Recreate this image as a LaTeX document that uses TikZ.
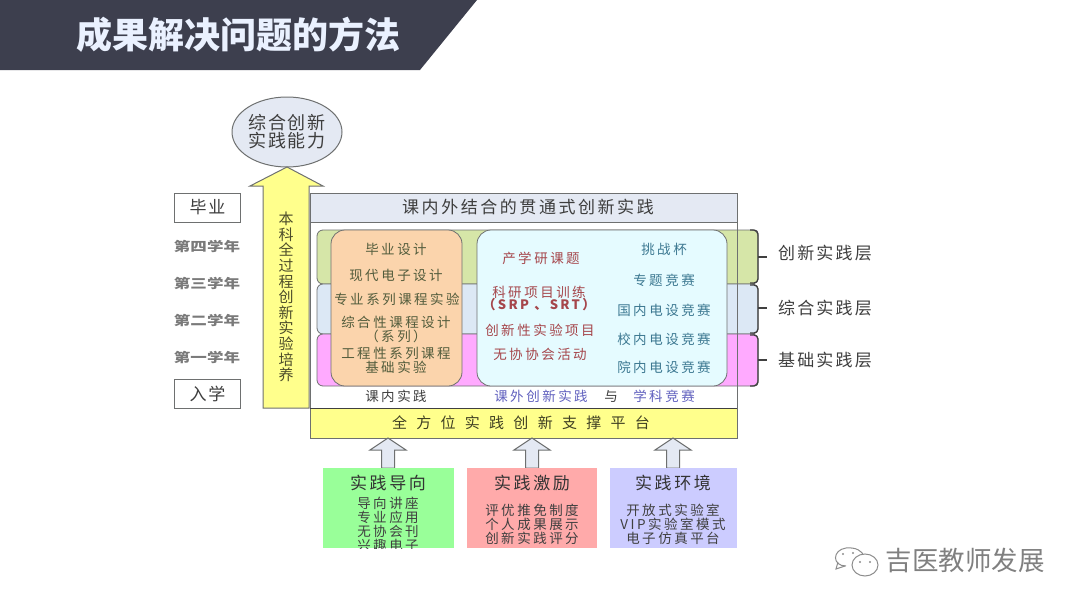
\documentclass[tikz,border=0pt]{standalone}
\usepackage{fontspec}
\setmainfont{Noto Sans CJK SC}
\usetikzlibrary{shapes.geometric}
\definecolor{cband}{RGB}{61,63,78}
\definecolor{ctitle}{RGB}{234,241,255}
\definecolor{cline}{RGB}{110,112,112}
\definecolor{cpale}{RGB}{228,233,243}
\definecolor{cyel}{RGB}{255,255,140}
\definecolor{cgreen}{RGB}{214,230,168}
\definecolor{cblue}{RGB}{220,232,245}
\definecolor{cpink}{RGB}{255,170,255}
\definecolor{corange}{RGB}{251,212,172}
\definecolor{ccyan}{RGB}{229,251,255}
\definecolor{cbgreen}{RGB}{153,255,153}
\definecolor{cbred}{RGB}{255,170,170}
\definecolor{cbviol}{RGB}{204,204,255}
\definecolor{tolive}{RGB}{82,92,60}
\definecolor{tred}{RGB}{165,70,75}
\definecolor{tteal}{RGB}{60,120,145}
\definecolor{tpurp}{RGB}{96,96,190}
\definecolor{tdark}{RGB}{62,62,62}
\newcommand{\fs}[1]{\fontsize{#1}{#1}\selectfont}
\newcommand{\wide}[1]{\addfontfeature{LetterSpace=#1}}
\newcommand{\bodyfont}{\fs{13.5}\wide{18.5}}
\tikzset{
  panel/.style={draw=cline, line width=1pt},
  layerbox/.style={draw=cline, line width=.8pt, rounded corners=6pt},
  brace/.style={draw=black!75, line width=1.3pt, rounded corners=4pt},
  upar/.style={draw=cline, fill=cpale, line width=1pt},
  endbox/.style={panel, fill=white, minimum width=66pt, minimum height=29pt, inner sep=0pt, text=tdark, font=\fs{17}\wide{10}},
  yearlab/.style={text=black!52, xscale=1.27, transform shape, font=\bfseries\fs{13}},
  oranlab/.style={text=tolive, font=\bodyfont},
  redlab/.style={text=tred, font=\bodyfont},
  teallab/.style={text=tteal, font=\bodyfont},
  purplab/.style={text=tpurp, font=\bodyfont},
  layerlab/.style={text=tdark, font=\fs{17}\wide{13}},
  headlab/.style={text=black!80, font=\fs{17}\wide{15}},
  rowlab/.style={text=black!75, align=center, font=\bodyfont, inner sep=0pt},
}
\begin{document}
\begin{tikzpicture}[x=1pt,y=-1pt]
  \useasboundingbox (0,0) rectangle (1080,608);
  % title band
  \fill[cband] (0,0) -- (477,0) -- (420,70) -- (0,70) -- cycle;
  \node[text=ctitle, font=\bfseries\fs{36}] (title) at (238.5,35) {成果解决问题的方法};
  % left column
  \node[ellipse, panel, fill=cpale, minimum width=110pt, minimum height=70pt, inner sep=0pt,
        align=center, text=tdark, font=\fs{18}\wide{8}] (ability) at (287,132) {综合创新\\实践能力};
  \draw[draw=cline, fill=cyel, line width=1pt] (287,167) -- (323,186) -- (309,186) -- (309,408)
    -- (263,408) -- (263,186) -- (250,186) -- cycle;
  \node[align=center, text=black!70!cyel, inner sep=0pt, font=\fontsize{15}{15.6}\selectfont] (whole) at (286,297)
    {本\\科\\全\\过\\程\\创\\新\\实\\验\\培\\养};
  \node[endbox] (grad) at (207.5,207.5) {毕业};
  \node[yearlab] (y4) at (207,246) {第四学年};
  \node[yearlab] (y3) at (207,283) {第三学年};
  \node[yearlab] (y2) at (207,320) {第二学年};
  \node[yearlab] (y1) at (207,357) {第一学年};
  \node[endbox] (enter) at (207.5,393.5) {入学};
  % layer bands, frame drawn over them
  \draw[layerbox, fill=cgreen] (317,230) rectangle (758,284);
  \draw[layerbox, fill=cblue] (317,284) rectangle (758,334);
  \draw[layerbox, fill=cpink] (317,334) rectangle (758,386);
  \draw[panel] (310,222) rectangle (737,408);
  \draw[panel, fill=cpale] (310,193) rectangle (737,222);
  \node[text=tdark, font=\fs{17}\wide{15}] (frametop) at (528,207) {课内外结合的贯通式创新实践};
  \draw[layerbox, rounded corners=14pt, fill=corange] (331,230) rectangle (462,386);
  \draw[layerbox, rounded corners=14pt, fill=ccyan] (477,230) rectangle (727,386);
  % braces on the right
  \draw[brace] (750,230) -- (758,230) -- (758,283) -- (750,283);
  \draw[brace] (750,285) -- (758,285) -- (758,333) -- (750,333);
  \draw[brace] (750,335) -- (758,335) -- (758,386) -- (750,386);
  \draw[brace] (758,257) -- (767,257);
  \draw[brace] (758,308) -- (767,308);
  \draw[brace] (758,360) -- (767,360);
  \node[layerlab] (lay3) at (825,253) {创新实践层};
  \node[layerlab] (lay2) at (825,308) {综合实践层};
  \node[layerlab] (lay1) at (825,360) {基础实践层};
  % inner texts
  \node[oranlab] (o1) at (396,249) {毕业设计};
  \node[oranlab] (o2) at (396,275) {现代电子设计};
  \node[oranlab] (o3) at (397,299) {专业系列课程实验};
  \node[oranlab] (o4) at (396,322) {综合性课程设计};
  \node[oranlab] (o5) at (396,336) {（系列）};
  \node[oranlab] (o6) at (396,353) {工程性系列课程};
  \node[oranlab] (o7) at (396,367) {基础实验};
  \node[redlab] (r1) at (541,258) {产学研课题};
  \node[redlab] (r2) at (539,292) {科研项目训练};
  \node[redlab, font=\bfseries\fs{13}\wide{18}] (r3) at (539,305) {（SRP 、SRT）};
  \node[redlab] (r4) at (540,330) {创新性实验项目};
  \node[redlab] (r5) at (540,354) {无协协会活动};
  \node[teallab] (t1) at (664,249) {挑战杯};
  \node[teallab] (t2) at (664,280) {专题竞赛};
  \node[teallab] (t3) at (664,310) {国内电设竞赛};
  \node[teallab] (t4) at (664,339) {校内电设竞赛};
  \node[teallab] (t5) at (664,367) {院内电设竞赛};
  \node[text=tdark, font=\bodyfont] (inlab) at (396,396) {课内实践};
  \node[purplab] (outlab) at (541,396) {课外创新实践};
  \node[text=tdark, font=\bodyfont] (andlab) at (611,396) {与};
  \node[purplab] (complab) at (664,396) {学科竞赛};
  % support platform
  \draw[panel, fill=cyel] (310,408) rectangle (737,438);
  \node[text=black!75!cyel, font=\fs{15}\wide{62}] (platform) at (521,423) {全方位实践创新支撑平台};
  \draw[black!75, line width=1pt] (310,408) -- (737,408);
  % arrows and bottom boxes
  \foreach \xa in {388,532,673}
    \draw[upar] (\xa,438) -- ({\xa+18},450) -- ({\xa+6.5},450) -- ({\xa+6.5},468)
      -- ({\xa-6.5},468) -- ({\xa-6.5},450) -- ({\xa-18},450) -- cycle;
  \fill[cbgreen] (323,468) rectangle (454,548);
  \fill[cbred] (467,468) rectangle (597,548);
  \fill[cbviol] (610,468) rectangle (737,548);
  \node[headlab] (h1) at (388,483) {实践导向};
  \node[headlab] (h2) at (532,483) {实践激励};
  \node[headlab] (h3) at (673,483) {实践环境};
  \begin{scope}
    \clip (323,468) rectangle (454,548);
    \node[rowlab] (g1) at (388,503) {导向讲座};
    \node[rowlab] (g2) at (388,517) {专业应用};
    \node[rowlab] (g3) at (388,531) {无协会刊};
    \node[rowlab] (g4) at (388,545) {兴趣电子};
  \end{scope}
  \node[rowlab] (p1) at (532,510) {评优推免制度};
  \node[rowlab] (p2) at (532,524) {个人成果展示};
  \node[rowlab] (p3) at (532,538) {创新实践评分};
  \node[rowlab] (v1) at (673,510) {开放式实验室};
  \node[rowlab] (v2) at (673,524) {VIP实验室模式};
  \node[rowlab] (v3) at (673,538) {电子仿真平台};
  % watermark
  \draw[black!45, line width=1pt] (846,566) .. controls (832,566) and (832,550) .. (846,548)
    .. controls (856,547) and (862,551) .. (864,556);
  \draw[black!45, fill=white, line width=1pt] (865,565) ellipse (13 and 11);
  \draw[black!45, line width=1pt] (838,562) -- (836,569) -- (845,566);
  \fill[black!45] (843,554) circle (1.2) (853,553) circle (1.2) (860,562) circle (1.2) (870,562) circle (1.2);
  \node[text=black!50, font=\fs{26.5}] (mark) at (965,560) {吉医教师发展};
\end{tikzpicture}
\end{document}
